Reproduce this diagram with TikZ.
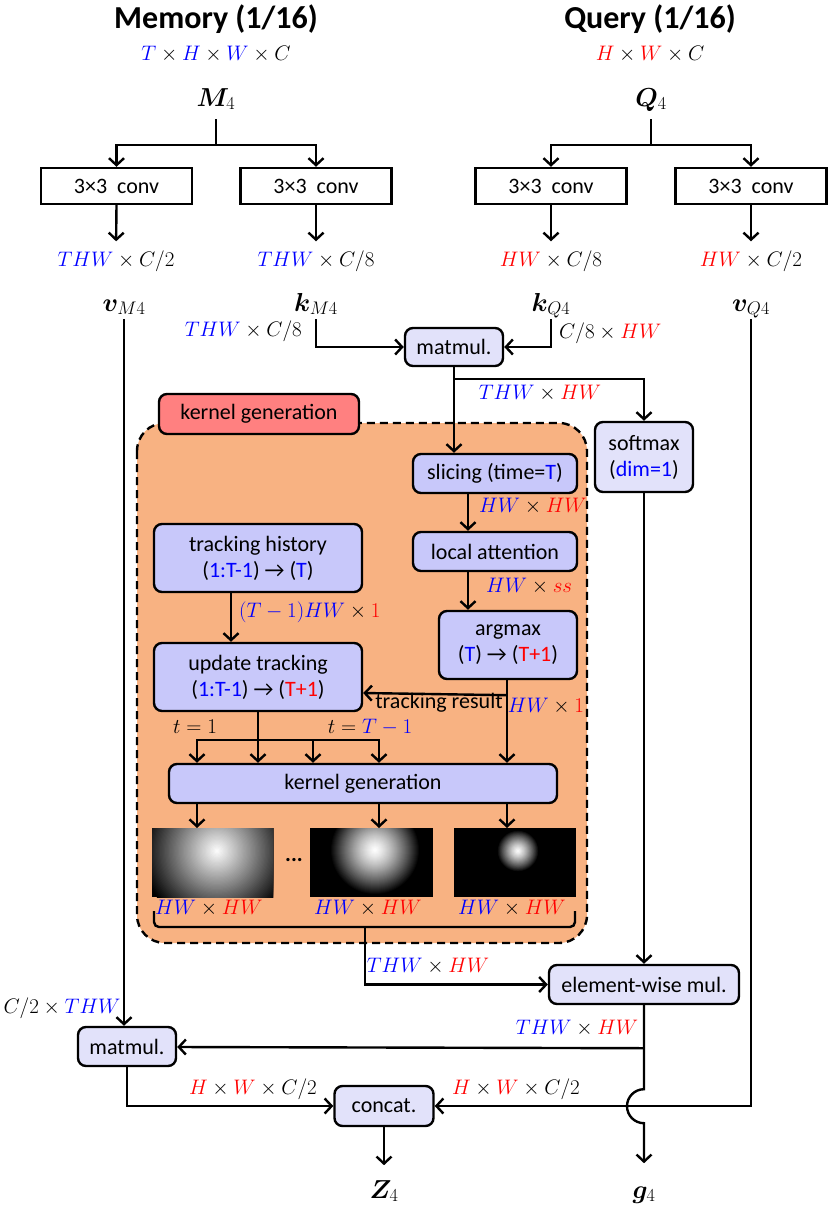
\RequirePackage{fix-cm}
\documentclass[tikz,border=0pt]{standalone}
\usepackage{amsmath,bm}
\usepackage{fontspec}
\setmainfont{Carlito}
\usetikzlibrary{arrows.meta}
\definecolor{lavA}{RGB}{200,200,250}
\definecolor{lavB}{RGB}{226,226,250}
\definecolor{kred}{RGB}{255,128,128}
\definecolor{korange}{RGB}{248,178,130}
\newcommand{\myb}[1]{\textcolor{blue}{#1}}
\newcommand{\myr}[1]{\textcolor{red}{#1}}
\begin{document}
\begin{tikzpicture}[x=1pt,y=-1pt,line width=2.4pt,
  arr/.style={-{Straight Barb[length=7pt,width=15pt]}},
  box/.style={draw,line width=2.4pt,font=\fontsize{22}{26}\selectfont,inner sep=0pt,align=center},
  conv/.style={box,minimum width=151pt,minimum height=36pt},
  ibox/.style={box,fill=lavA,rounded corners=8pt},
  obox/.style={box,fill=lavB,rounded corners=8pt},
  ml/.style={font=\fontsize{21}{25}\selectfont,inner sep=0pt,text height=14pt,text depth=5pt},
  big/.style={font=\fontsize{26}{30}\selectfont,inner sep=0pt,text height=19pt,text depth=7pt},
  ttl/.style={font=\fontsize{32}{36}\selectfont\bfseries,inner sep=0pt},
  txt/.style={font=\fontsize{22}{26}\selectfont,inner sep=0pt},
]
\useasboundingbox[fill=white] (0,0) rectangle (830,1207);

% titles
\node[ttl] (tM) at (216,19) {Memory (1/16)};
\node[ttl] (tQ) at (650,19) {Query (1/16)};
\node[ml] (dM) at (216,56) {$\myb{T}\times\myb{H}\times\myb{W}\times C$};
\node[ml] (dQ) at (650,56) {$\myr{H}\times\myr{W}\times C$};
\node[big] (M4) at (216,100) {$\bm{M}_4$};
\node[big] (Q4) at (651,100) {$\bm{Q}_4$};

% conv boxes
\node[conv] (cv1) at (116.5,186) {3×3\ \ conv};
\node[conv] (cv2) at (316,186) {3×3\ \ conv};
\node[conv] (cv3) at (551,186) {3×3\ \ conv};
\node[conv] (cv4) at (751,186) {3×3\ \ conv};

\draw[arr] (M4.south) ++(0,5) -- ++(0,26) -| (cv1.north);
\draw[arr] (M4.south) ++(0,5) -- ++(0,26) -| (cv2.north);
\draw[arr] (Q4.south) ++(0,5) -- ++(0,26) -| (cv3.north);
\draw[arr] (Q4.south) ++(0,5) -- ++(0,26) -| (cv4.north);

\node[ml] (d1) at (116,262) {$\myb{THW}\times C/2$};
\node[ml] (d2) at (316,262) {$\myb{THW}\times C/8$};
\node[ml] (d3) at (551,262) {$\myr{HW}\times C/8$};
\node[ml] (d4) at (751,262) {$\myr{HW}\times C/2$};
\draw[arr,shorten >=10pt] (cv1.south) -- (d1.north);
\draw[arr,shorten >=10pt] (cv2.south) -- (d2.north);
\draw[arr,shorten >=10pt] (cv3.south) -- (d3.north);
\draw[arr,shorten >=10pt] (cv4.south) -- (d4.north);

\node[big] (vM) at (124,305) {$\bm{v}_{M4}$};
\node[big] (kM) at (316,305) {$\bm{k}_{M4}$};
\node[big] (kQ) at (551,305) {$\bm{k}_{Q4}$};
\node[big] (vQ) at (751,305) {$\bm{v}_{Q4}$};

% first matmul
\node[obox,minimum width=98pt,minimum height=38pt] (mm1) at (454,347) {matmul.};
\node[ml,anchor=east] (lkM) at (303,332) {$\myb{THW}\times C/8$};
\node[ml,anchor=west] (lkQ) at (558,334) {$C/8\times\myr{HW}$};
\draw[arr] (kM.south) |- (mm1.west);
\draw[arr] (kQ.south) |- (mm1.east);

% softmax
\node[obox,minimum width=98pt,minimum height=70pt] (sm) at (644,457) {softmax\\(\myb{dim=1})};
\draw[arr] (mm1.south) ++(0,12) -| (sm.north);
\node[ml] (lTH) at (540,395) {$\myb{THW}\times\myr{HW}$};

% orange region
\draw[fill=korange,dash pattern=on 8pt off 5pt,rounded corners=28pt] (137,423) rectangle (587,943);
\node[box,fill=kred,rounded corners=8pt,minimum width=200pt,minimum height=40pt] (klab) at (259,414) {kernel generation};

% right chain
\coordinate (cx) at (468,0);
\node[ibox,minimum width=164pt,minimum height=39pt] (sl) at (495,473.5) {slicing (time=\myb{T})};
\node[ibox,minimum width=164pt,minimum height=39pt] (la) at (495,551.5) {local attention};
\node[ibox,minimum width=138pt,minimum height=68pt] (am) at (508,645) {argmax\\(\myb{T}) → (\myr{T+1})};
\draw[arr] (mm1.south) -- (mm1.south |- sl.north);
\draw[arr] (sl.south -| cx) -- (la.north -| cx);
\draw[arr] (la.south -| cx) -- (am.north -| cx);
\node[ml,anchor=west] (l1) at (478,508) {$\myb{HW}\times\myr{HW}$};
\node[ml,anchor=west] (l2) at (485,588) {$\myb{HW}\times\myr{ss}$};

% left chain
\node[ibox,minimum width=208pt,minimum height=68pt] (th) at (258,558) {tracking history\\(\myb{1:T-1}) → (\myb{T})};
\node[ibox,minimum width=208pt,minimum height=68pt] (ut) at (258,677) {update tracking\\(\myb{1:T-1}) → (\myr{T+1})};
\coordinate (tx) at (231,0);
\draw[arr] (th.south -| tx) -- (ut.north -| tx);
\node[ml,anchor=west] (l3) at (238,613) {$\myb{(T-1)HW}\times\myr{1}$};

% kernel generation box
\node[ibox,minimum width=388pt,minimum height=39pt] (kg) at (363,783.5) {kernel generation};
\coordinate (ax) at (507,0);
\draw[arr] (am.south -| ax) -- (kg.north -| ax);
\draw[arr] (am.south -| ax) ++(0,15) -- (ut.east |- 0,693);
\node[txt] (trr) at (439,703) {tracking result};
\node[ml] (l4) at (546,708) {$\myb{HW}\times\myr{1}$};

\coordinate (k1) at (197,0);
\coordinate (k2) at (313,0);
\coordinate (k3) at (379,0);
\draw[arr] (ut.south) -- (ut.south |- kg.north);
\draw[arr] (ut.south) ++(0,28) -| (kg.north -| k1);
\draw[arr] (ut.south) ++(0,28) -| (kg.north -| k3);
\draw[arr] (ut.south -| k2) ++(0,28) -- (kg.north -| k2);
\node[ml] (t1) at (195,729) {$t=1$};
\node[ml] (t2) at (370,729) {$t=\myb{T-1}$};

% images (corner coordinates)
\coordinate (im1a) at (152,828); \coordinate (im1b) at (273,897);
\coordinate (im2a) at (310,828); \coordinate (im2b) at (433,897);
\coordinate (im3a) at (454,828); \coordinate (im3b) at (576,897);
\fill[black] (im1a) rectangle (im1b);
\fill[black] (im2a) rectangle (im2b);
\fill[black] (im3a) rectangle (im3b);
\begin{scope}
  \clip (im1a) rectangle (im1b);
  \foreach \i in {0,...,59}{
    \pgfmathsetmacro{\rr}{76*(1-\i/60)}
    \pgfmathsetmacro{\pp}{100*\i/60}
    \fill[white!\pp!black] (217,851) circle (\rr);
  }
\end{scope}
\begin{scope}
  \clip (im2a) rectangle (im2b);
  \foreach \i in {0,...,44}{
    \pgfmathsetmacro{\rr}{45*(1-\i/45)}
    \pgfmathsetmacro{\pp}{100*(1-(1-\i/45)^1.3)}
    \fill[white!\pp!black] (375,850) circle (\rr);
  }
\end{scope}
\begin{scope}
  \clip (im3a) rectangle (im3b);
  \foreach \i in {0,...,24}{
    \pgfmathsetmacro{\rr}{21*(1-\i/25)}
    \pgfmathsetmacro{\pp}{100*(1-(1-\i/25)^1.3)}
    \fill[white!\pp!black] (518,851) circle (\rr);
  }
\end{scope}
\draw[arr] (kg.south -| k1) -- (k1 |- im1a);
\draw[arr] (kg.south -| k3) -- (k3 |- im2a);
\draw[arr] (kg.south -| ax) -- (ax |- im3a);
\node[font=\fontsize{22}{26}\selectfont\bfseries,inner sep=0pt] (dots) at (294,860) {...};
\node[ml] (h1) at (209,910) {$\myb{HW}\times\myr{HW}$};
\node[ml] (h2) at (368,910) {$\myb{HW}\times\myr{HW}$};
\node[ml] (h3) at (512,910) {$\myb{HW}\times\myr{HW}$};

% bracket
\draw[rounded corners=5pt] (154,911) -- (154,927) -- (575,927) -- (575,911);
\coordinate (btip) at (365,927);

% element-wise mul
\node[obox,minimum width=190pt,minimum height=39pt] (ew) at (644,984.5) {element-wise mul.};
\draw[arr] (btip) |- (ew.west);
\node[ml] (l5) at (428,968) {$\myb{THW}\times\myr{HW}$};
\draw[arr] (sm.south) -- (ew.north);

% bottom
\node[obox,minimum width=98pt,minimum height=39pt] (mm2) at (127,1046.5) {matmul.};
\node[obox,minimum width=99pt,minimum height=40pt] (cc) at (384,1106) {concat.};
\node[big] (Z4) at (384,1192) {$\bm{Z}_4$};
\node[big] (g4) at (644,1192) {$\bm{g}_4$};

\draw[arr] (vM.south) -- (vM.south |- mm2.north);
\node[ml] (l6) at (62,1009) {$C/2\times\myb{THW}$};
\draw[arr] (ew.south) ++(0,43) -- (mm2.east |- 0,1047);
\node[ml] (l7) at (577,1030) {$\myb{THW}\times\myr{HW}$};
\draw[arr] (ew.south) -- ++(0,84) arc[start angle=270,end angle=90,radius=17] -- ++(0,40);
\draw[arr] (mm2.south) |- (cc.west);
\draw[arr] (vQ.south) |- (cc.east);
\node[ml] (l8) at (253,1090) {$\myr{H}\times\myr{W}\times C/2$};
\node[ml] (l9) at (516,1090) {$\myr{H}\times\myr{W}\times C/2$};
\draw[arr] (cc.south) -- ++(0,38);
\end{tikzpicture}
\end{document}
